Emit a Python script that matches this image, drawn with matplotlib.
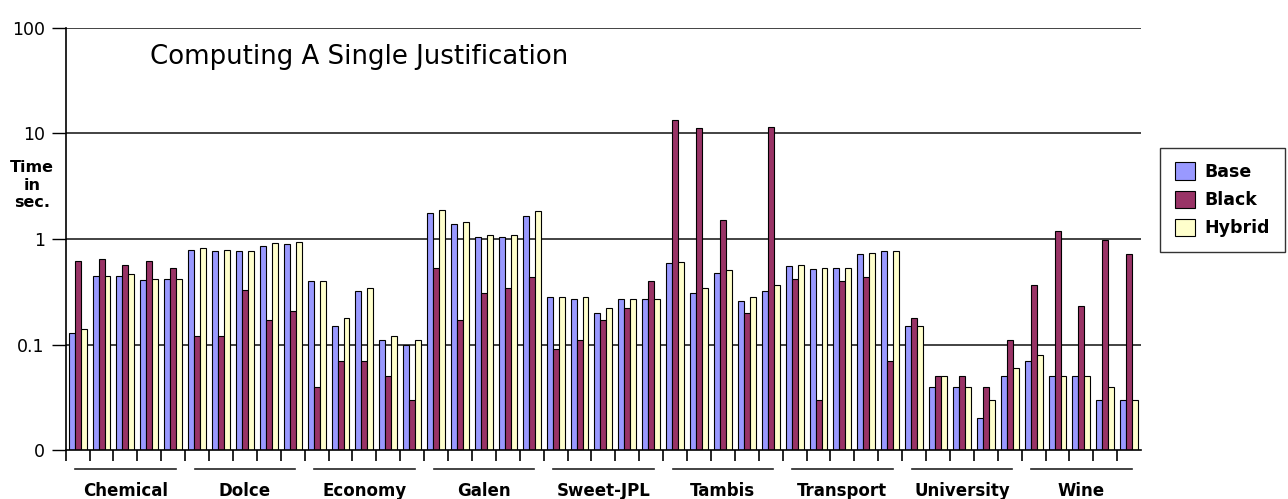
import numpy as np
import matplotlib
matplotlib.use("Agg")
import matplotlib.pyplot as plt
from matplotlib.ticker import FixedLocator, FixedFormatter, NullLocator

# Data (seconds, log scale)
GROUPS = ["Chemical", "Dolce", "Economy", "Galen", "Sweet-JPL",
          "Tambis", "Transport", "University", "Wine"]
PER_GROUP = 5

BASE = [0.13, 0.45, 0.45, 0.41, 0.42,
        0.79, 0.77, 0.77, 0.85, 0.90,
        0.40, 0.15, 0.32, 0.11, 0.10,
        1.75, 1.40, 1.05, 1.05, 1.65,
        0.28, 0.27, 0.20, 0.27, 0.27,
        0.59, 0.31, 0.48, 0.26, 0.32,
        0.55, 0.52, 0.53, 0.72, 0.77,
        0.15, 0.04, 0.04, 0.02, 0.05,
        0.07, 0.05, 0.05, 0.03, 0.03]
BLACK = [0.62, 0.65, 0.57, 0.62, 0.53,
         0.12, 0.12, 0.33, 0.17, 0.21,
         0.04, 0.07, 0.07, 0.05, 0.03,
         0.53, 0.17, 0.31, 0.34, 0.44,
         0.09, 0.11, 0.17, 0.22, 0.40,
         13.5, 11.2, 1.5, 0.20, 11.6,
         0.42, 0.03, 0.40, 0.44, 0.07,
         0.18, 0.05, 0.05, 0.04, 0.11,
         0.37, 1.18, 0.23, 0.98, 0.72]
HYBRID = [0.14, 0.45, 0.47, 0.42, 0.42,
          0.82, 0.79, 0.77, 0.91, 0.93,
          0.40, 0.18, 0.34, 0.12, 0.11,
          1.90, 1.45, 1.10, 1.10, 1.85,
          0.28, 0.28, 0.22, 0.27, 0.27,
          0.61, 0.34, 0.51, 0.28, 0.37,
          0.57, 0.53, 0.53, 0.73, 0.77,
          0.15, 0.05, 0.04, 0.03, 0.06,
          0.08, 0.05, 0.05, 0.04, 0.03]

SERIES = {"Base": BASE, "Black": BLACK, "Hybrid": HYBRID}
COLORS = {"Base": "#9999FF", "Black": "#993366", "Hybrid": "#FFFFCC"}

Y_TICKS = [0.01, 0.1, 1, 10, 100]
Y_LABELS = ["0", "0.1", "1", "10", "100"]


def main():
    fig = plt.figure(figsize=(12.88, 4.99), dpi=100)
    ax = fig.add_axes([0.051, 0.098, 0.835, 0.846])

    n = len(BASE)
    x = np.arange(n)
    w = 0.25
    for i, (name, vals) in enumerate(SERIES.items()):
        ax.bar(x + (i - 1) * w, vals, width=w, color=COLORS[name],
               edgecolor="black", linewidth=0.8, label=name, zorder=3)

    ax.set_yscale("log")
    ax.set_ylim(0.01, 100)
    ax.set_xlim(-0.5, n - 0.5)

    ax.yaxis.set_major_locator(FixedLocator(Y_TICKS))
    ax.yaxis.set_major_formatter(FixedFormatter(Y_LABELS))
    ax.yaxis.set_minor_locator(NullLocator())
    ax.tick_params(axis="y", length=10, width=1, labelsize=12.5, pad=5)

    ax.xaxis.set_major_locator(FixedLocator(np.arange(-0.5, n - 1, 1.0)))
    ax.xaxis.set_minor_locator(NullLocator())
    ax.set_xticklabels([])
    ax.tick_params(axis="x", length=8, width=1.2, direction="out")

    # horizontal gridlines
    for yv in Y_TICKS[1:]:
        ax.axhline(yv, color="#222222", linewidth=1.2, zorder=1)

    for side in ["top", "right"]:
        ax.spines[side].set_visible(False)
    ax.spines["left"].set_linewidth(1.2)
    ax.spines["bottom"].set_linewidth(1.2)
    ax.spines["bottom"].set_zorder(4)

    # group labels with lines underneath the axis
    trans = ax.get_xaxis_transform()
    for g, name in enumerate(GROUPS):
        center = g * PER_GROUP + (PER_GROUP - 1) / 2
        ax.plot([center - 2.1, center + 2.1], [-0.045, -0.045], color="#222222",
                linewidth=1.2, transform=trans, clip_on=False)
        ax.text(center, -0.098, name, transform=trans, ha="center", va="center",
                fontsize=12, fontweight="bold")

    ax.text(0.078, 0.931, "Computing A Single Justification", transform=ax.transAxes,
            fontsize=18.7, ha="left", va="center")

    fig.text(32 / 1288, 1 - 185 / 499, "Time\nin\nsec.", ha="center", va="center",
             fontsize=11.5, fontweight="bold", linespacing=1.2)

    leg = fig.legend(loc="upper left", bbox_to_anchor=(0.901, 0.704),
                     frameon=True, fancybox=False, borderaxespad=0,
                     prop={"weight": "bold", "size": 12.5}, handlelength=1.15,
                     handleheight=1.15, handletextpad=0.55, labelspacing=0.55,
                     borderpad=0.85)
    leg.get_frame().set_edgecolor("black")
    leg.get_frame().set_linewidth(1.0)

    fig.savefig("out.png", dpi=100)
    plt.close(fig)


if __name__ == "__main__":
    main()
